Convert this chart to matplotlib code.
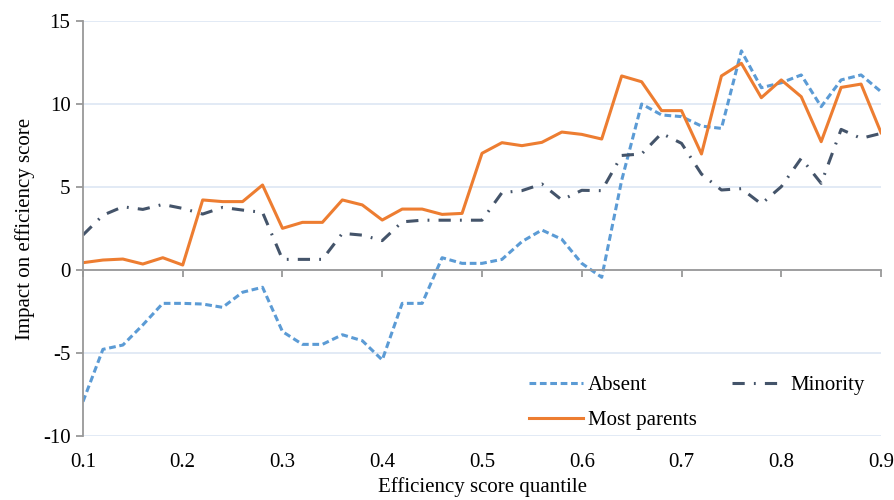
import numpy as np
import matplotlib.pyplot as plt

plt.rcParams['font.family'] = ['Liberation Serif', 'DejaVu Serif']
plt.rcParams['axes.unicode_minus'] = False

quantile = np.round(np.arange(0.10, 0.901, 0.02), 2)

absent = [-7.93, -4.78, -4.52, -3.31, -2.01, -2.01, -2.05, -2.25, -1.34, -1.04,
          -3.71, -4.48, -4.48, -3.90, -4.26, -5.42, -2.01, -2.01, 0.74, 0.40,
          0.40, 0.64, 1.71, 2.41, 1.85, 0.40, -0.44, 5.40, 10.00, 9.34,
          9.24, 8.67, 8.53, 13.20, 10.98, 11.28, 11.75, 9.84, 11.45, 11.75,
          10.74]

minority = [2.11, 3.30, 3.81, 3.65, 3.95, 3.71, 3.37, 3.77, 3.61, 3.47,
            0.64, 0.64, 0.64, 2.21, 2.10, 1.77, 2.90, 3.00, 3.00, 3.00,
            3.00, 4.66, 4.78, 5.18, 4.22, 4.80, 4.78, 6.90, 6.99, 8.23,
            7.63, 5.78, 4.82, 4.90, 3.98, 5.02, 6.73, 5.22, 8.47, 7.93,
            8.23]

most_parents = [0.44, 0.60, 0.66, 0.36, 0.74, 0.30, 4.22, 4.12, 4.12, 5.12,
                2.51, 2.87, 2.87, 4.22, 3.92, 3.01, 3.67, 3.67, 3.35, 3.41,
                7.03, 7.67, 7.49, 7.69, 8.31, 8.17, 7.89, 11.69, 11.34, 9.60,
                9.60, 6.99, 11.69, 12.45, 10.38, 11.45, 10.44, 7.73, 11.00, 11.20,
                8.27]

fig = plt.figure(figsize=(8.95, 5), dpi=100)
ax = fig.add_axes([0.0927, 0.128, 0.8917, 0.83])

l_abs, = ax.plot(quantile, absent, color='#5b9bd5', lw=2.2, ls=(0, (2.2, 1.2)), label='Absent')
l_min, = ax.plot(quantile, minority, color='#44546a', lw=2.2, ls=(0, (4, 3, 0.6, 3)), label='Minority')
l_most, = ax.plot(quantile, most_parents, color='#ed7d31', lw=2.2, label='Most parents')

ax.set_xlim(0.1, 0.9)
ax.set_ylim(-10, 15)
ax.set_yticks(np.arange(-10, 16, 5))
ax.set_xticks(np.round(np.arange(0.1, 0.91, 0.1), 1))
ax.set_xticklabels(['0.1', '0.2', '0.3', '0.4', '0.5', '0.6', '0.7', '0.8', '0.9'])

ax.grid(axis='y', color='#dde6f3', lw=1.2)
ax.set_axisbelow(True)
for s in ['top', 'right']:
    ax.spines[s].set_visible(False)
ax.spines['left'].set_color('#999999')
ax.spines['left'].set_linewidth(1.3)
ax.spines['bottom'].set_position(('data', 0))
ax.spines['bottom'].set_color('#999999')
ax.spines['bottom'].set_linewidth(1.3)

ax.tick_params(axis='y', direction='out', length=5, color='#999999', width=1.3,
               labelsize=15, pad=4)
ax.tick_params(axis='x', direction='out', length=5, color='#999999', width=1.3,
               labelsize=15, pad=127)

ax.set_xlabel('Efficiency score quantile', fontsize=15, labelpad=3.5)
ax.set_ylabel('Impact on efficiency score', fontsize=15, labelpad=6)

# two columns, filled column by column: Absent / Most parents, then Minority
ax.legend([l_abs, l_most, l_min], ['Absent', 'Most parents', 'Minority'],
          ncol=2, frameon=False, fontsize=15, loc='lower left',
          bbox_to_anchor=(0.536, -0.031), handlelength=2.55, columnspacing=1.7,
          handletextpad=0.25, labelspacing=0.75)

fig.savefig('out.png', dpi=100)
